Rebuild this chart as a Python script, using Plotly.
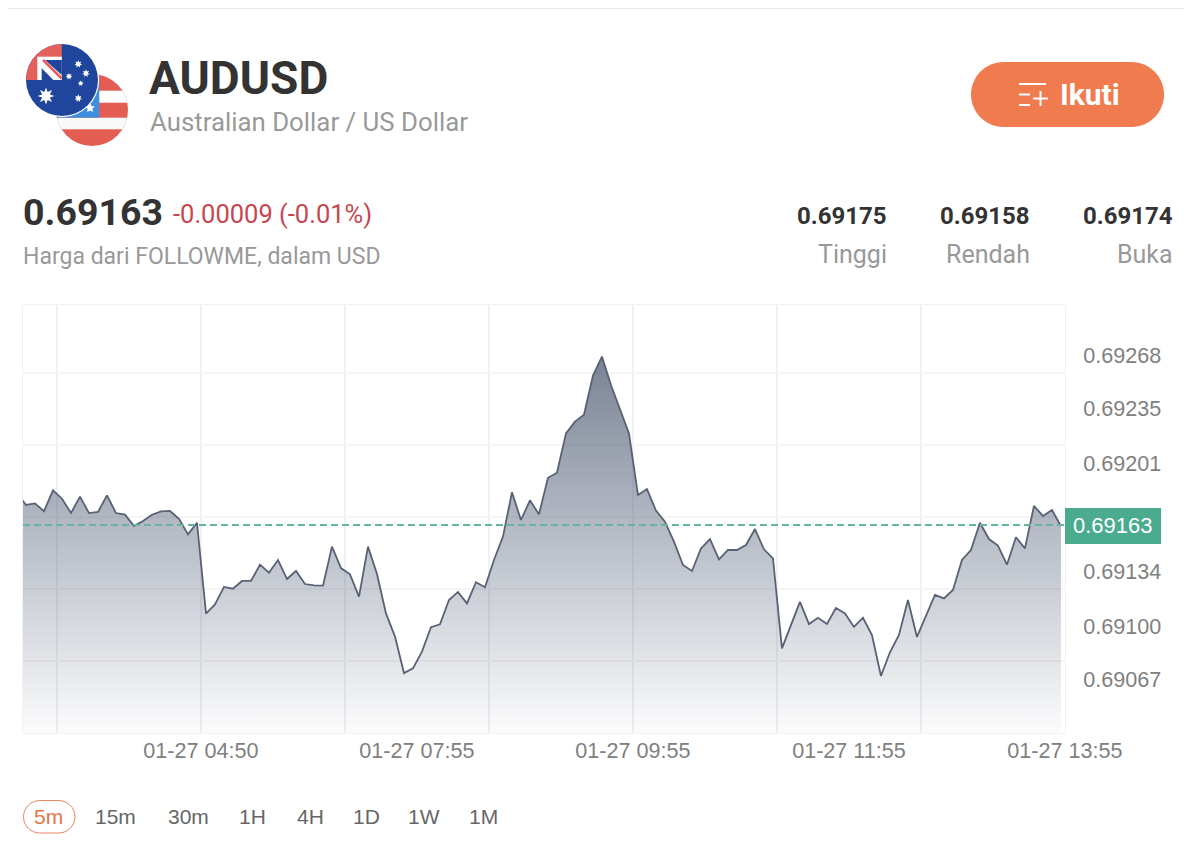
"""AUDUSD 5m area chart card, FOLLOWME style."""

import base64
import math

import plotly.graph_objects as go

# the page keeps its 8px body margin, so the figure fills what is left of the window
PAGE_MARGIN = 8
W, H = 1192 - PAGE_MARGIN, 860 - PAGE_MARGIN

# 5m values
PRICES = [
    0.691828, 0.691754, 0.691764, 0.691715, 0.691845, 0.691793, 0.691704, 0.691806, 0.691704, 0.691711,
    0.691814, 0.691704, 0.691694, 0.691624, 0.691655, 0.691694, 0.691715, 0.691717, 0.691669, 0.691572,
    0.691644, 0.691080, 0.691138, 0.691246, 0.691235, 0.691283, 0.691283, 0.691384, 0.691334, 0.691413,
    0.691295, 0.691345, 0.691264, 0.691256, 0.691254, 0.691496, 0.691363, 0.691324, 0.691186, 0.691496,
    0.691326, 0.691082, 0.690938, 0.690712, 0.690741, 0.690845, 0.690996, 0.691014, 0.691165, 0.691215,
    0.691144, 0.691275, 0.691244, 0.691413, 0.691558, 0.691833, 0.691661, 0.691783, 0.691696, 0.691923,
    0.691954, 0.692198, 0.692271, 0.692314, 0.692556, 0.692674, 0.692498, 0.692353, 0.692198, 0.691816,
    0.691853, 0.691719, 0.691651, 0.691527, 0.691382, 0.691345, 0.691485, 0.691543, 0.691417, 0.691475,
    0.691475, 0.691506, 0.691605, 0.691479, 0.691423, 0.690865, 0.691010, 0.691153, 0.691016, 0.691055,
    0.691016, 0.691115, 0.691082, 0.690998, 0.691055, 0.690948, 0.690694, 0.690841, 0.690948, 0.691165,
    0.690936, 0.691072, 0.691196, 0.691175, 0.691227, 0.691413, 0.691475, 0.691644, 0.691543, 0.691502,
    0.691384, 0.691554, 0.691485, 0.691748, 0.691686, 0.691723, 0.691624,
]
CURRENT = 0.69163

X_RANGE = [0.667, 116.45]
Y_RANGE = [0.6903404, 0.692994]

X_GRID = [4.444, 20.444, 36.444, 52.444, 68.444, 84.444, 100.444, 116.444]
Y_GRID = [0.6907868, 0.6912332, 0.6916796, 0.692126, 0.6925724]

X_TICKS = [20.444, 44.444, 68.444, 92.444, 116.444]
X_LABELS = ["01-27 04:50", "01-27 07:55", "01-27 09:55", "01-27 11:55", "01-27 13:55"]
Y_TICKS = [0.69067, 0.691, 0.69134, 0.69201, 0.69235, 0.69268]
Y_LABELS = ["0.69067", "0.69100", "0.69134", "0.69201", "0.69235", "0.69268"]

STAT_VALUES = ["0.69175", "0.69158", "0.69174"]
STAT_NAMES = ["Tinggi", "Rendah", "Buka"]
STAT_RIGHT = [887.5, 1030.5, 1173.5]

PERIODS = ["5m", "15m", "30m", "1H", "4H", "1D", "1W", "1M"]
PERIOD_X = [48.5, 115, 188, 252.5, 310, 366, 423.5, 483]

SANS = "Roboto, sans-serif"
HELV = "Liberation Sans, sans-serif"
ORANGE = "#f07b4e"
GREEN = "#4aab8e"


def fx(px):
    return (px - PAGE_MARGIN) / W


def fy(py):
    return 1 - (py - PAGE_MARGIN) / H


def label(x, y, text, size, color, anchor="left", family=SANS, bold=False):
    return dict(
        xref="paper", yref="paper", x=fx(x), y=fy(y), text=f"<b>{text}</b>" if bold else text,
        xanchor=anchor, yanchor="middle", showarrow=False, borderpad=0,
        font=dict(size=size, color=color, family=family),
    )


def pill(x0, y0, x1, y1, **kw):
    """Rounded button outline as a shape path."""
    r = (y1 - y0) / 2
    k = r * 0.45
    pts = [
        f"M{fx(x0 + r)},{fy(y0)}", f"L{fx(x1 - r)},{fy(y0)}",
        f"C{fx(x1 - k)},{fy(y0)} {fx(x1)},{fy(y0 + k)} {fx(x1)},{fy(y0 + r)}",
        f"C{fx(x1)},{fy(y1 - k)} {fx(x1 - k)},{fy(y1)} {fx(x1 - r)},{fy(y1)}",
        f"L{fx(x0 + r)},{fy(y1)}",
        f"C{fx(x0 + k)},{fy(y1)} {fx(x0)},{fy(y1 - k)} {fx(x0)},{fy(y1 - r)}",
        f"C{fx(x0)},{fy(y0 + k)} {fx(x0 + k)},{fy(y0)} {fx(x0 + r)},{fy(y0)}Z",
    ]
    return dict(type="path", xref="paper", yref="paper", path=" ".join(pts), **kw)


def seg(x0, y0, x1, y1, color="#ffffff", width=2):
    return dict(type="line", xref="paper", yref="paper", x0=fx(x0), y0=fy(y0), x1=fx(x1), y1=fy(y1),
                line=dict(color=color, width=width))


def star(cx, cy, r, n=7):
    pts = []
    for i in range(n * 2):
        rad = r if i % 2 == 0 else r * 0.5
        a = math.pi * i / n - math.pi / 2
        pts.append(f"{cx + rad * math.cos(a):.1f},{cy + rad * math.sin(a):.1f}")
    return f'<polygon points="{" ".join(pts)}" fill="#fff"/>'


def flags_svg():
    """Both round flags as one inline picture, drawn in page pixels."""
    stars = star(46, 96, 8.5, n=8) + "".join(
        star(*s) for s in [(78.3, 64, 4), (86, 73.3, 4), (69, 76.3, 3.5), (80.7, 83.3, 3), (78.3, 98.3, 4)])
    svg = f"""<svg xmlns="http://www.w3.org/2000/svg" width="150" height="150" viewBox="0 0 150 150">
<defs><clipPath id="us"><circle cx="92" cy="110" r="36"/></clipPath>
<clipPath id="au"><circle cx="62" cy="80" r="36"/></clipPath></defs>
<g clip-path="url(#us)"><rect x="50" y="70" width="90" height="80" fill="#e35d52"/>
<rect x="50" y="90.7" width="90" height="12" fill="#fff"/><rect x="50" y="117.7" width="90" height="11.6" fill="#f9f9f9"/>
<rect x="50" y="70" width="49.3" height="47.7" fill="#3f8fdf"/>{star(90, 108, 5, n=5)}</g>
<circle cx="62" cy="80" r="37.2" fill="#fff"/>
<g clip-path="url(#au)"><rect x="20" y="40" width="90" height="80" fill="#1f459c"/>
<rect x="20" y="40" width="41.8" height="40" fill="#e4605a"/>
<rect x="37.3" y="56.7" width="24.5" height="23.3" fill="#fff"/>
<path d="M45,60 L61.8,60 L61.8,75Z" fill="#1f459c"/><path d="M41.7,68.3 L41.7,80 L53.3,80Z" fill="#1f459c"/>
<path d="M43,60 L61.8,78.5" stroke="#e4605a" stroke-width="2.6" fill="none"/>
{stars}</g></svg>"""
    return "data:image/svg+xml;base64," + base64.b64encode(svg.encode()).decode()


fig = go.Figure()

fig.add_trace(go.Scatter(
    x=list(range(len(PRICES))), y=PRICES, mode="lines", fill="tozeroy",
    line=dict(color="#596175", width=1.8),
    fillgradient=dict(
        type="vertical", start=Y_RANGE[0], stop=max(PRICES),
        colorscale=[[0, "rgba(80,92,116,0.02)"], [1, "rgba(80,92,116,0.76)"]],
    ),
    hoverinfo="skip",
))

# current price line, on the axes which carry the printed labels
fig.add_trace(go.Scatter(
    x=X_RANGE, y=[CURRENT, CURRENT], mode="lines", xaxis="x2", yaxis="y2",
    line=dict(color="#62b79d", width=2, dash="7px,4px"), hoverinfo="skip",
))

annotations = [
    label(148, 78, "AUDUSD", 46, "#333333", bold=True),
    label(148.5, 122, "Australian Dollar / US Dollar", 25.8, "#999999"),
    label(22, 212, "0.69163", 37.5, "#333333", bold=True),
    label(172, 214, "-0.00009 (-0.01%)", 25.5, "#c8464f"),
    label(22, 257, "Harga dari FOLLOWME, dalam USD", 23, "#999999"),
    label(1059, 95, "Ikuti", 30, "#ffffff", bold=True),
    label(1113, 525.5, f"{CURRENT:.5f}", 22, "#ffffff", anchor="center", family=HELV),
]
for right, val, name in zip(STAT_RIGHT, STAT_VALUES, STAT_NAMES):
    annotations.append(label(right, 216, val, 24, "#333333", anchor="right", bold=True))
    annotations.append(label(right, 254, name, 25, "#999999", anchor="right"))
for px, name in zip(PERIOD_X, PERIODS):
    annotations.append(label(px, 816, name, 21, "#e0764c" if name == "5m" else "#666666", anchor="center", family=HELV))

shapes = [
    dict(type="line", xref="paper", yref="paper", x0=0, x1=1, y0=fy(8.5), y1=fy(8.5), line=dict(color="#e8e8e8", width=1)),
    pill(971, 62, 1164, 127, fillcolor=ORANGE, line=dict(width=0)),
    pill(23.5, 800.5, 75, 833, fillcolor="#ffffff", line=dict(color="#e8855e", width=1)),
    seg(1019, 84, 1046, 84), seg(1019, 94.5, 1030, 94.5), seg(1019, 105, 1030, 105),
    seg(1033, 98.5, 1048, 98.5), seg(1040.5, 91, 1040.5, 106),
    dict(type="rect", xref="paper", yref="paper", x0=fx(1065), x1=fx(1161), y0=fy(508), y1=fy(544),
         fillcolor=GREEN, line=dict(width=0)),
]

fig.update_layout(
    width=W, height=H,
    margin=dict(l=0, r=0, t=0, b=0),
    paper_bgcolor="#ffffff", plot_bgcolor="#ffffff",
    showlegend=False,
    annotations=annotations,
    shapes=shapes,
    images=[dict(source=flags_svg(), xref="paper", yref="paper", x=fx(0), y=fy(0), sizex=150 / W, sizey=150 / H,
                 xanchor="left", yanchor="top", sizing="stretch", layer="above")],
    xaxis=dict(
        domain=[fx(23), fx(1065)], range=X_RANGE, tickmode="array", tickvals=X_GRID, showticklabels=False,
        ticks="", showgrid=True, gridcolor="rgba(205,208,216,0.32)", gridwidth=1.5, zeroline=False,
        showline=True, mirror=True, linecolor="#f2f2f4", linewidth=1, automargin=False,
    ),
    yaxis=dict(
        domain=[fy(733), fy(305)], range=Y_RANGE, tickmode="array", tickvals=Y_GRID, showticklabels=False,
        ticks="", showgrid=True, gridcolor="#f6f4f4", gridwidth=1.5, zeroline=False,
        showline=True, mirror=True, linecolor="#f2f2f4", linewidth=1, automargin=False,
    ),
    xaxis2=dict(
        overlaying="x", anchor="y2", side="bottom", range=X_RANGE, tickmode="array",
        tickvals=X_TICKS, ticktext=X_LABELS, showgrid=False, zeroline=False,
        ticks="", ticklabelstandoff=2, automargin=False,
        tickfont=dict(size=21.6, color="#808080", family=HELV),
    ),
    yaxis2=dict(
        overlaying="y", anchor="x2", side="right", range=Y_RANGE, tickmode="array",
        tickvals=Y_TICKS, ticktext=Y_LABELS, showgrid=False, zeroline=False,
        ticks="outside", ticklen=13, tickcolor="rgba(0,0,0,0)", automargin=False,
        tickfont=dict(size=21.6, color="#808080", family=HELV),
    ),
)

fig.write_html("out.html")
